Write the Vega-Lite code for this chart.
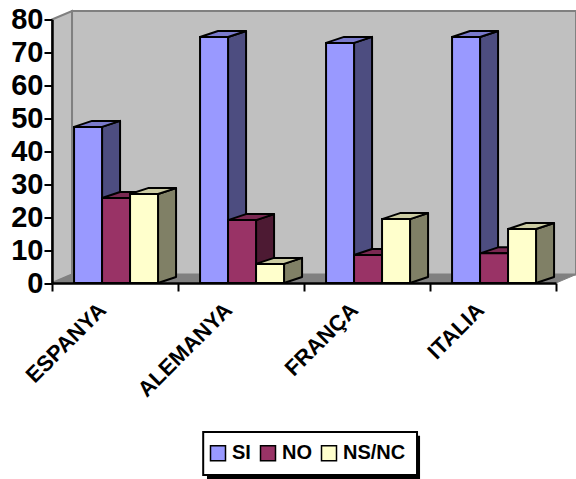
{
 "$schema":"https://vega.github.io/schema/vega-lite/v6.json",
 "width":504,"height":263.5,
 "autosize":"none",
 "padding":{"left":52,"top":19.5,"right":20,"bottom":196},
 "background":"white",
 "config":{"view":{"stroke":null},
  "font":"Liberation Sans"},
 "datasets":{"bars":[
  {"country":"ESPANYA","series":"SI","value":47.4},
  {"country":"ESPANYA","series":"NO","value":25.8},
  {"country":"ESPANYA","series":"NS/NC","value":27},
  {"country":"ALEMANYA","series":"SI","value":74.7},
  {"country":"ALEMANYA","series":"NO","value":19.1},
  {"country":"ALEMANYA","series":"NS/NC","value":5.8},
  {"country":"FRANÇA","series":"SI","value":72.9},
  {"country":"FRANÇA","series":"NO","value":8.5},
  {"country":"FRANÇA","series":"NS/NC","value":19.4},
  {"country":"ITALIA","series":"SI","value":74.7},
  {"country":"ITALIA","series":"NO","value":9},
  {"country":"ITALIA","series":"NS/NC","value":16.4}
 ],"ends":[{"t":0},{"t":1}],"one":[{"t":0}]},
 "layer":[
  {"data":{"name":"ends"},
   "transform":[{"calculate":"datum.t*0.159","as":"wx"},{"calculate":"datum.t*2.58","as":"wy"},{"calculate":"80+datum.t*2.58","as":"wy2"}],
   "mark":{"type":"area","fill":"#C0C0C0","stroke":"#808080","strokeWidth":2,"clip":false},
   "encoding":{"x":{"field":"wx","type":"quantitative","scale":{"domain":[0,4],"nice":false,"zero":false},
      "axis":{"values":[0,1,2,3,4],"title":null,"grid":false,"zindex":1,"domainColor":"black","domainWidth":2.5,"tickColor":"black","tickWidth":2,"tickSize":8,
        "labelExpr":"datum.value<4 ? ['ESPANYA','ALEMANYA','FRANÇA','ITALIA'][datum.value] : ''",
        "labelAngle":-45,"labelAlign":"right","labelBaseline":"middle","labelOffset":50,"labelPadding":15,"labelFont":"Liberation Sans","labelFontWeight":"bold","labelFontSize":22,"labelColor":"black","labelOverlap":false,"labelBound":false,"labelFlush":false}},
     "y":{"field":"wy","type":"quantitative","stack":null,"scale":{"domain":[0,80],"nice":false,"zero":false},
      "axis":{"values":[0,10,20,30,40,50,60,70,80],"tickCount":9,"title":null,"grid":false,"zindex":1,"domainColor":"black","domainWidth":2.5,"tickColor":"black","tickWidth":2,"tickSize":8,"labelPadding":1,"labelOverlap":false,"labelBound":false,"labelFlush":false,"labelFont":"Liberation Sans","labelFontWeight":"bold","labelFontSize":29,"labelColor":"black"}},
     "y2":{"field":"wy2"}}},
  {"data":{"name":"one"},"mark":{"type":"rect","fill":"#C0C0C0","stroke":"#808080","strokeWidth":2},
   "encoding":{"x":{"datum":0.159},"x2":{"datum":4.159},"y":{"datum":2.58},"y2":{"datum":82.58}}},
  {"data":{"name":"ends"},
   "transform":[{"calculate":"datum.t*0.159","as":"fx"},{"calculate":"4+datum.t*0.159","as":"fx2"},{"calculate":"datum.t*2.58","as":"fy"}],
   "mark":{"type":"area","orient":"horizontal","fill":"#808080","stroke":"#808080","strokeWidth":1},
   "encoding":{"y":{"field":"fy","type":"quantitative","stack":null},"x":{"field":"fx","type":"quantitative"},"x2":{"field":"fx2"}}},
  {"data":{"name":"bars"},
   "transform":[
    {"calculate":"indexof(['ESPANYA','ALEMANYA','FRANÇA','ITALIA'],datum.country)+0.175+indexof(['SI','NO','NS/NC'],datum.series)*0.2222","as":"x0"},
    {"calculate":"[0,1]","as":"t"},{"flatten":["t"]},
    {"calculate":"datum.x0+0.2222+datum.t*0.143","as":"sx"},
    {"calculate":"datum.value+datum.t*1.82","as":"sy"},
    {"calculate":"datum.t*1.82","as":"sy2"},
    {"calculate":"datum.country+datum.series","as":"key"}],
   "mark":{"type":"area","stroke":"black","strokeWidth":2,"strokeJoin":"round"},
   "encoding":{"x":{"field":"sx","type":"quantitative"},"y":{"field":"sy","type":"quantitative","stack":null},"y2":{"field":"sy2"},
    "detail":{"field":"key"},
    "fill":{"field":"series","type":"nominal","legend":null,"scale":{"domain":["SI","NO","NS/NC"],"range":["#4D4D80","#4D1A33","#808066"]}}}},
  {"data":{"name":"bars"},
   "transform":[
    {"calculate":"indexof(['ESPANYA','ALEMANYA','FRANÇA','ITALIA'],datum.country)+0.175+indexof(['SI','NO','NS/NC'],datum.series)*0.2222","as":"x0"},
    {"calculate":"[0,1]","as":"t"},{"flatten":["t"]},
    {"calculate":"datum.x0+datum.t*0.143","as":"tx"},
    {"calculate":"datum.x0+0.2222+datum.t*0.143","as":"tx2"},
    {"calculate":"datum.value+datum.t*1.82","as":"ty"},
    {"calculate":"datum.country+datum.series","as":"key"}],
   "mark":{"type":"area","orient":"horizontal","stroke":"black","strokeWidth":2,"strokeJoin":"round"},
   "encoding":{"y":{"field":"ty","type":"quantitative","stack":null},"x":{"field":"tx","type":"quantitative"},"x2":{"field":"tx2"},
    "detail":{"field":"key"},
    "fill":{"field":"series","type":"nominal","legend":null,"scale":{"domain":["SI","NO","NS/NC"],"range":["#7A7ACC","#7A2952","#CCCCA3"]}}}},
  {"data":{"name":"one"},"mark":{"type":"rect","fill":"black"},
   "encoding":{"x":{"datum":1.23},"x2":{"datum":2.921},"y":{"datum":-46.4},"y2":{"datum":-59.5}}},
  {"data":{"name":"one"},"mark":{"type":"rect","fill":"white","stroke":"black","strokeWidth":2},
   "encoding":{"x":{"datum":1.2},"x2":{"datum":2.897},"y":{"datum":-45.23},"y2":{"datum":-58.29}}},
  {"data":{"name":"bars"},
   "transform":[
    {"calculate":"indexof(['ESPANYA','ALEMANYA','FRANÇA','ITALIA'],datum.country)+0.175+indexof(['SI','NO','NS/NC'],datum.series)*0.2222","as":"x0"},
    {"calculate":"datum.x0+0.2222","as":"x1"},{"calculate":"0","as":"base"}],
   "mark":{"type":"rect","stroke":"black","strokeWidth":2},
   "encoding":{"x":{"field":"x0","type":"quantitative"},"x2":{"field":"x1"},"y":{"field":"value","type":"quantitative"},"y2":{"field":"base"},
    "fill":{"field":"series","type":"nominal","scale":{"domain":["SI","NO","NS/NC"],"range":["#9999FF","#993366","#FFFFCC"]},
     "legend":{"title":null,"orient":"none","legendX":156,"legendY":423.5,"direction":"horizontal","symbolType":"square","symbolSize":225,"symbolStrokeColor":"black","symbolStrokeWidth":1.5,"labelFont":"Liberation Sans","labelFontWeight":"bold","labelFontSize":20,"labelColor":"black","labelOffset":4,"columnPadding":6,"padding":0}}}}
 ],
 "resolve":{"scale":{"fill":"independent"},"legend":{"fill":"independent"}}
}
